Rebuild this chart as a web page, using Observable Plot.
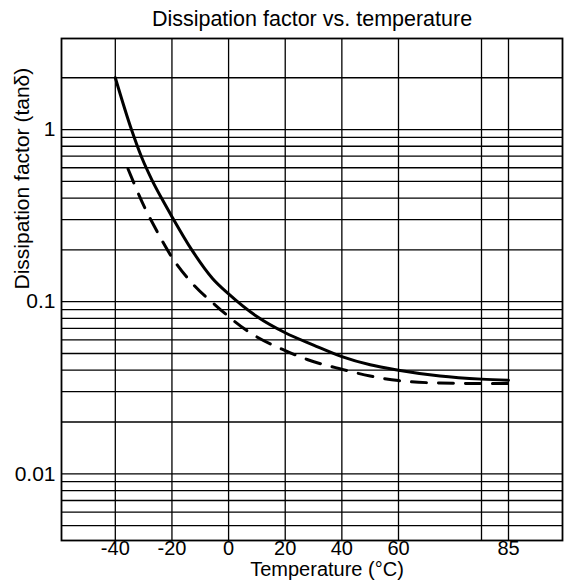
<!DOCTYPE html>
<html>
<head>
<meta charset="utf-8">
<script src="https://cdn.jsdelivr.net/npm/d3@7"></script>
<script src="https://cdn.jsdelivr.net/npm/@observablehq/plot@0.6"></script>
<style>
  body { margin: 0; background: #fff; font-family: "Liberation Sans", Arial, Helvetica, sans-serif; }
  #title { height: 30px; line-height: 38px; font-size: 21.5px; text-align: center; padding-left: 59px; width: 506px; white-space: nowrap; color: #000; }
</style>
</head>
<body>
<div id="title">Dissipation factor vs. temperature</div>
<div id="chart"></div>
<script>
// Data
const tempSolid = [-40, -34.3, -30.7, -27, -23.4, -20, -13, -5.6, 0, 10, 20, 30, 40, 50, 60, 70, 80, 85];
const tanSolid  = [2.0, 1.0, 0.69, 0.507, 0.392, 0.312, 0.2, 0.136, 0.111, 0.082, 0.066, 0.056, 0.048, 0.043, 0.040, 0.037, 0.0355, 0.035];
const tempDashed = [-35.5, -29.5, -25.8, -20, -12.7, -4.5, 0, 7, 20, 28, 40, 50, 60, 70, 80, 85];
const tanDashed  = [0.59, 0.349, 0.266, 0.181, 0.127, 0.095, 0.082, 0.067, 0.052, 0.046, 0.0405, 0.037, 0.0348, 0.0337, 0.0335, 0.0335];

const xTicks = [-40, -20, 0, 20, 40, 60, 85];
const xGrid = [-40, -20, 0, 20, 40, 60, 80, 85];
const yTicks = [0.01, 0.1, 1];
const yGrid = [0.005, 0.006, 0.007, 0.008, 0.009, 0.01,
               0.02, 0.03, 0.04, 0.05, 0.06, 0.07, 0.08, 0.09, 0.1,
               0.2, 0.3, 0.4, 0.5, 0.6, 0.7, 0.8, 0.9, 1, 2];
const xLabel = "Temperature (°C)";
const yLabel = "Dissipation factor (tanδ)";

const solid = tempSolid.map((t, i) => ({t, v: tanSolid[i]}));
const dashed = tempDashed.map((t, i) => ({t, v: tanDashed[i]}));

const chart = Plot.plot({
  width: 565,
  height: 556,
  marginTop: 8,
  marginBottom: 46,
  marginLeft: 61,
  marginRight: 3,
  style: { fontFamily: '"Liberation Sans", Arial, Helvetica, sans-serif', fontSize: "20px", color: "#000", background: "#fff", overflow: "visible" },
  x: { type: "linear", domain: [-59, 60, 80, 85, 104], range: [61, 398, 481, 508, 562] },
  y: { type: "log", domain: [0.0041, 3.38] },
  marks: [
    Plot.ruleX(xGrid, { stroke: "#000", strokeWidth: 1.3 }),
    Plot.ruleY(yGrid, { stroke: "#000", strokeWidth: 1.3 }),
    Plot.frame({ stroke: "#000", strokeWidth: 1.8 }),
    Plot.line(solid, { x: "t", y: "v", curve: "monotone-x", stroke: "#000", strokeWidth: 3 }),
    Plot.line(dashed, { x: "t", y: "v", curve: "monotone-x", stroke: "#000", strokeWidth: 3, strokeDasharray: "15,12" }),
    Plot.axisX({ ticks: xTicks, tickSize: 0, tickPadding: 0, label: null, tickFormat: d => String(d), fontSize: 20 }),
    Plot.axisY({ ticks: yTicks, tickSize: 0, tickPadding: 6, label: null, tickFormat: d => String(d), fontSize: 21 }),
    Plot.text([xLabel], { text: d => d, frameAnchor: "bottom", dy: 35.1, dx: 15, fontSize: 20 }),
    Plot.text([yLabel], { text: d => d, frameAnchor: "left", rotate: -90, dx: -39, fontSize: 21 })
  ]
});
document.getElementById("chart").appendChild(chart);
</script>
</body>
</html>
